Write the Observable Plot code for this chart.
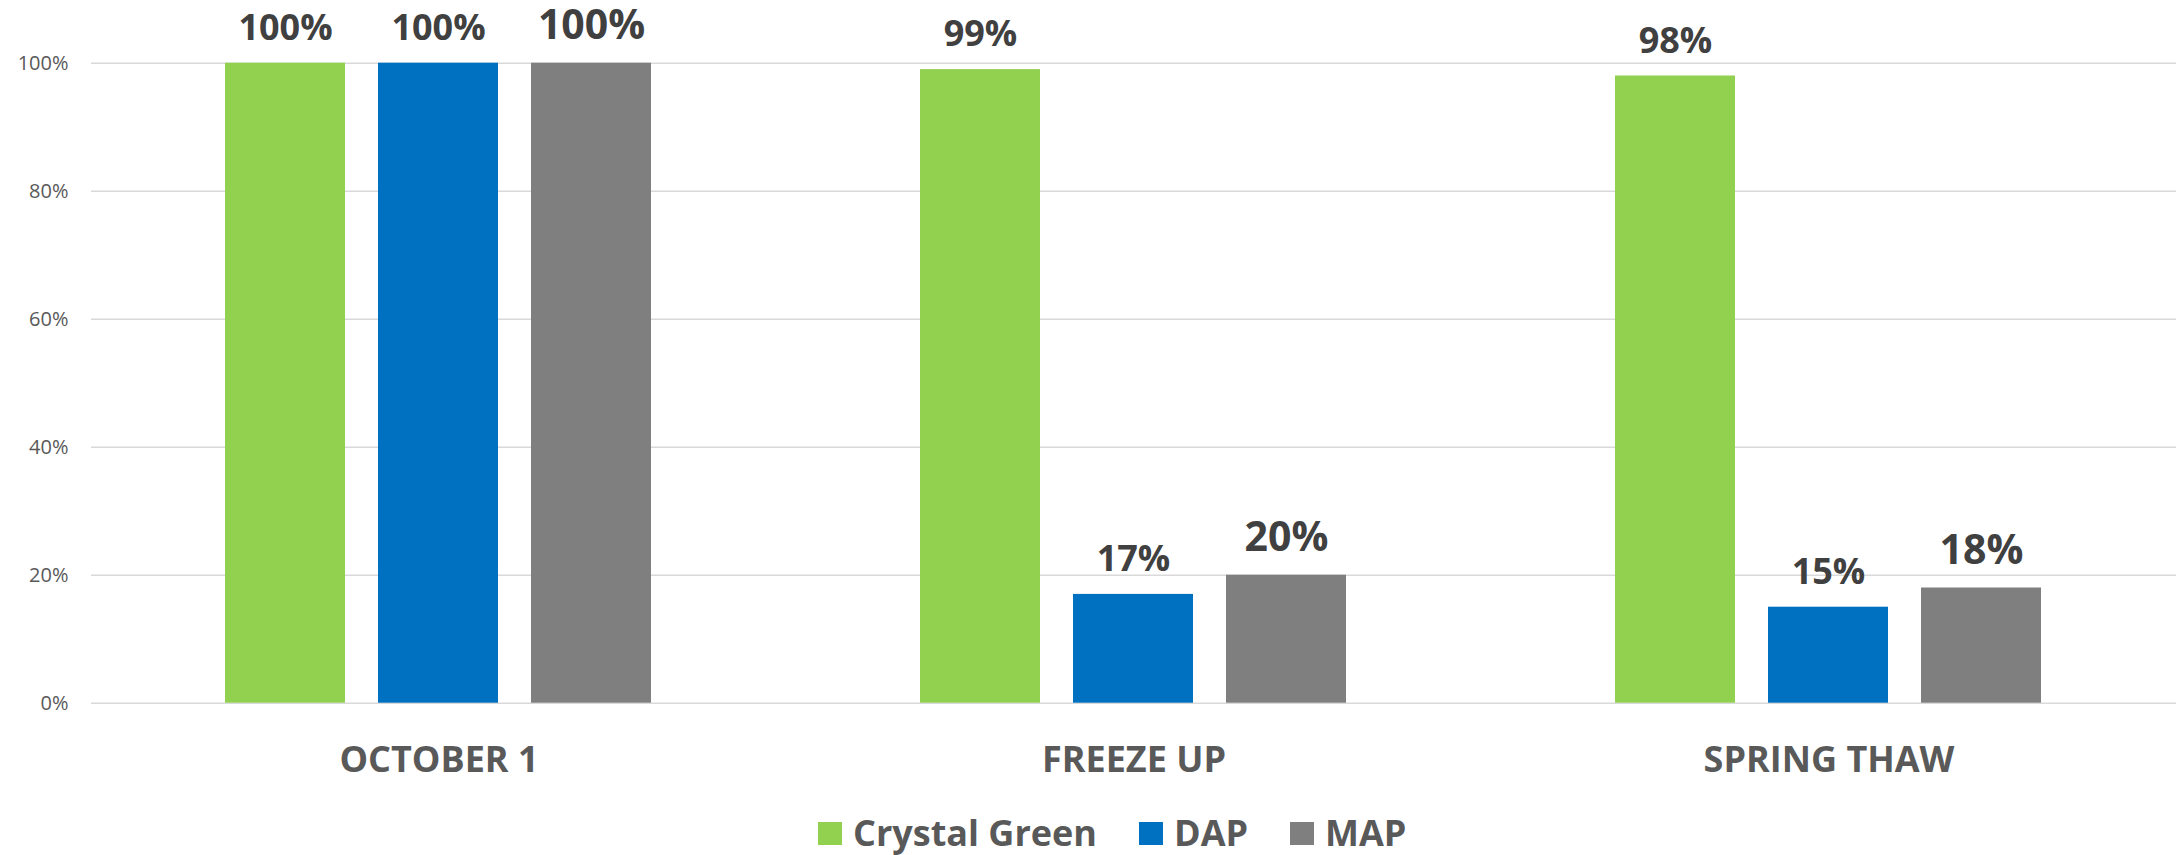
<!DOCTYPE html>
<html><head><meta charset="utf-8">
<script src="https://cdn.jsdelivr.net/npm/d3@7"></script>
<script src="https://cdn.jsdelivr.net/npm/@observablehq/plot@0.6"></script>
<style>
html,body{margin:0;padding:0;background:#fff;font-family:"Open Sans",sans-serif;}
#legend{display:flex;align-items:center;height:44px;margin-top:11px;padding-left:818px;}
.item{display:flex;align-items:center;margin-right:42px;font-size:36px;font-weight:700;color:#595959;line-height:1;}
.sw{width:24px;height:23px;margin-right:11px;}
</style></head><body>
<div id="chart"></div><div id="legend"></div>
<script>
const categories = ["OCTOBER 1", "FREEZE UP", "SPRING THAW"];
const series = ["Crystal Green", "DAP", "MAP"];
const colors = ["#92D050", "#0070C0", "#7F7F7F"];
const crystalGreen = [1.00, 0.99, 0.98];
const dap = [1.00, 0.17, 0.15];
const map = [1.00, 0.20, 0.18];
const yTicks = [0, 0.2, 0.4, 0.6, 0.8, 1.0];

const valuesBySeries = [crystalGreen, dap, map];
const data = [];
categories.forEach((c, i) => series.forEach((s, j) => data.push({category: c, series: s, value: valuesBySeries[j][i]})));
const pct = d3.format(".0%");

const chart = Plot.plot({
  width: 2178,
  height: 800,
  marginTop: 62.7,
  marginBottom: 97.3,
  marginLeft: 91,
  marginRight: 2,
  style: {fontFamily: "'Open Sans', sans-serif", background: "#fff"},
  fx: {domain: categories, padding: 0, label: null},
  x: {domain: series, paddingInner: 0.2143, paddingOuter: 0.864, axis: null},
  y: {domain: [0, 1], label: null},
  color: {domain: series, range: colors},
  marks: [
    Plot.gridY({ticks: yTicks, stroke: "#d9d9d9", strokeOpacity: 1, strokeWidth: 1.5}),
    Plot.axisY({ticks: yTicks, tickSize: 0, tickPadding: 23, tickFormat: pct, fontSize: 20, color: "#595959", label: null}),
    Plot.axisFx({anchor: "bottom", tickSize: 0, tickPadding: 43.7, fontSize: 36, fontWeight: "bold", color: "#595959", label: null}),
    Plot.barY(data, {fx: "category", x: "series", y: "value", fill: "series"}),
    Plot.text(data.filter(d => d.series !== "MAP"), {fx: "category", x: "series", y: "value", text: d => pct(d.value), lineAnchor: "bottom", dy: -23.4, fontSize: 36, fontWeight: "bold", fill: "#404040"}),
    Plot.text(data.filter(d => d.series === "MAP"), {fx: "category", x: "series", y: "value", text: d => pct(d.value), lineAnchor: "bottom", dy: -24, fontSize: 41, fontWeight: "bold", fill: "#404040"})
  ]
});
document.getElementById("chart").appendChild(chart);

const legend = document.getElementById("legend");
series.forEach((s, i) => {
  const item = document.createElement("div");
  item.className = "item";
  const sw = document.createElement("span");
  sw.className = "sw";
  sw.style.background = colors[i];
  const t = document.createElement("span");
  t.textContent = s;
  item.appendChild(sw);
  item.appendChild(t);
  legend.appendChild(item);
});
</script>
</body></html>
